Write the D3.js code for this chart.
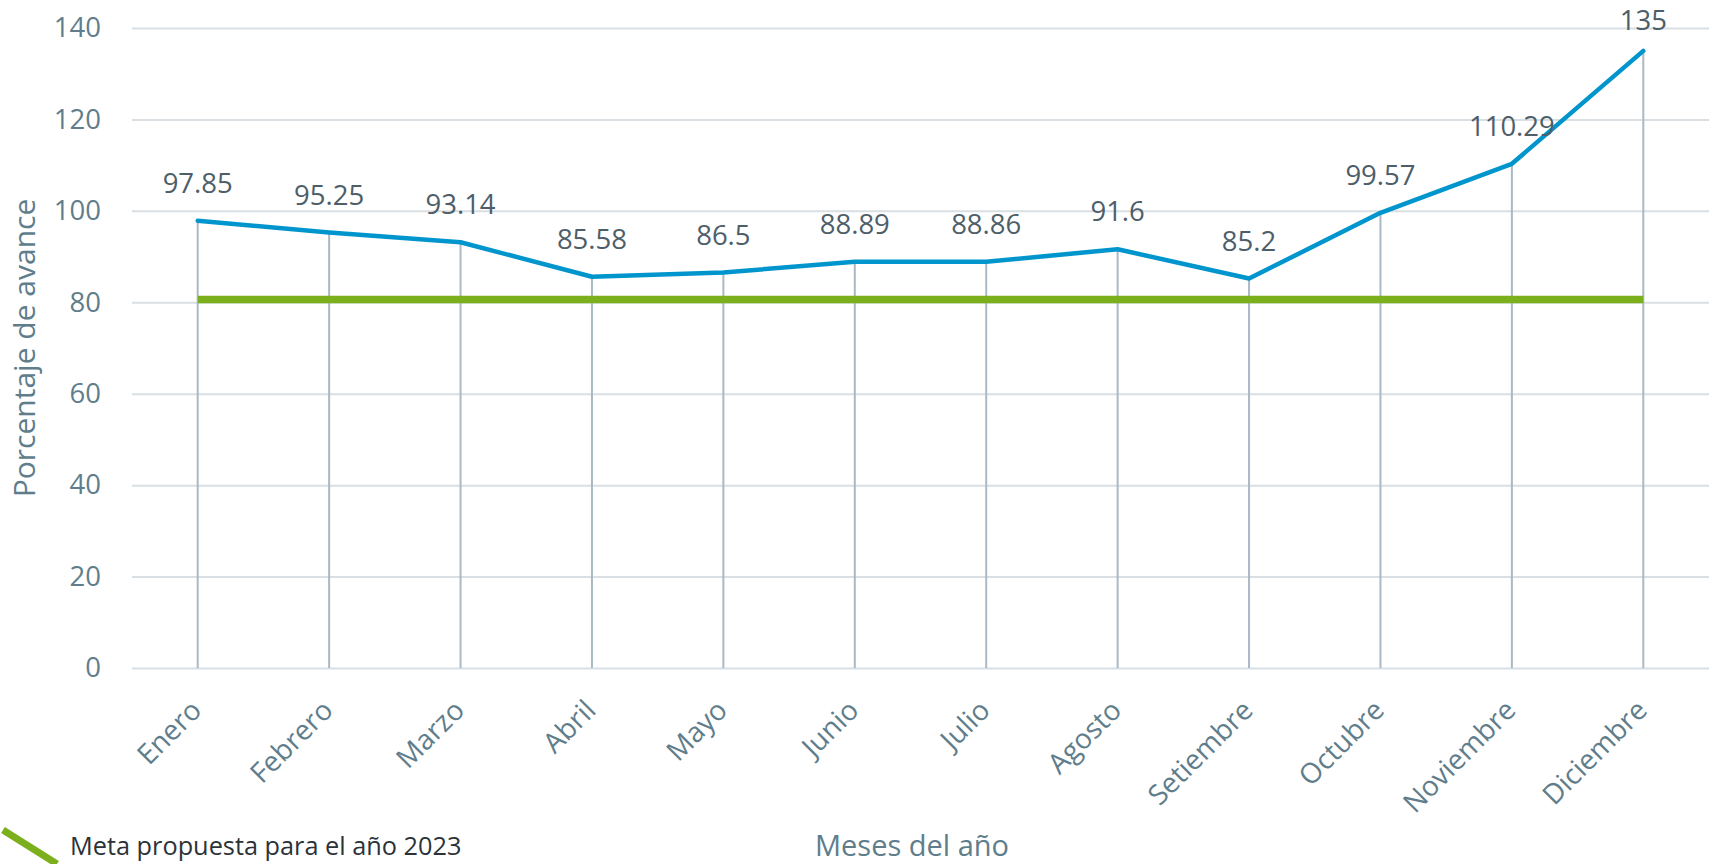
<!DOCTYPE html>
<html>
<head>
<meta charset="utf-8">
<script src="https://cdn.jsdelivr.net/npm/d3@7"></script>
<style>
html,body{margin:0;padding:0;background:#fff;}
svg{display:block;font-family:"Open Sans",sans-serif;}
</style>
</head>
<body>
<svg id="chart" width="1711" height="864"></svg>
<script>
const months = ["Enero","Febrero","Marzo","Abril","Mayo","Junio","Julio","Agosto","Setiembre","Octubre","Noviembre","Diciembre"];
const avance = [97.85,95.25,93.14,85.58,86.5,88.89,88.86,91.6,85.2,99.57,110.29,135];
const meta = [80.6,80.6,80.6,80.6,80.6,80.6,80.6,80.6,80.6,80.6,80.6,80.6];
const yTicks = [0,20,40,60,80,100,120,140];
const labels = ["97.85","95.25","93.14","85.58","86.5","88.89","88.86","91.6","85.2","99.57","110.29","135"];
const yTitle = "Porcentaje de avance";
const xTitle = "Meses del año";
const legendText = "Meta propuesta para el año 2023";

const svg = d3.select("#chart");
const mLeft = 132, mRight = 1709, mTop = 28, mBottom = 668;

const x = d3.scalePoint().domain(months).range([mLeft, mRight]).padding(0.5);
const y = d3.scaleLinear().domain([0,140]).range([mBottom, mTop]);

const axisColor = "#607d8b";

// horizontal gridlines via axis
const yAxis = d3.axisLeft(y).tickValues(yTicks).tickSize(-(mRight-mLeft)).tickPadding(31);
const gy = svg.append("g").attr("transform", `translate(${mLeft},0)`).call(yAxis);
gy.select(".domain").remove();
gy.selectAll(".tick line").attr("stroke", "#d9dfe3").attr("stroke-width", 2);
gy.selectAll(".tick text").attr("fill", axisColor).attr("font-size", 27.5).attr("font-family","Open Sans");

// drop lines
svg.append("g").selectAll("line").data(months).join("line")
  .attr("x1", (d) => x(d)).attr("x2", (d) => x(d))
  .attr("y1", (d,i) => y(avance[i])).attr("y2", y(0))
  .attr("stroke", "#a9b9c5").attr("stroke-width", 2);

// x axis labels
const xAxis = d3.axisBottom(x).tickSize(0).tickPadding(0);
const gx = svg.append("g").attr("transform", `translate(0,${mBottom})`).call(xAxis);
gx.select(".domain").remove();
gx.selectAll(".tick text")
  .attr("fill", axisColor).attr("font-size", 28).attr("font-family","Open Sans")
  .attr("text-anchor", "end").attr("dy", null).attr("y", null)
  .attr("transform", "translate(5,44) rotate(-45)");

// meta line
svg.append("path")
  .datum(months.map((m,i) => [x(m), y(meta[i])]))
  .attr("d", d3.line())
  .attr("fill", "none").attr("stroke", "#7bb01c").attr("stroke-width", 7.5);

// avance line
svg.append("path")
  .datum(months.map((m,i) => [x(m), y(avance[i])]))
  .attr("d", d3.line())
  .attr("fill", "none").attr("stroke", "#0095cc").attr("stroke-width", 4.5)
  .attr("stroke-linejoin", "round").attr("stroke-linecap", "round");

// data labels
svg.append("g").selectAll("text").data(months).join("text")
  .attr("x", (d) => x(d))
  .attr("y", (d,i) => Math.max(y(avance[i]) - 28, 30))
  .attr("text-anchor", "middle")
  .attr("font-size", 27.5)
  .attr("fill", "#4d5e69")
  .text((d,i) => labels[i]);

// axis titles
svg.append("text")
  .attr("transform", "translate(35,348) rotate(-90)")
  .attr("text-anchor", "middle").attr("font-size", 30).attr("fill", axisColor)
  .text(yTitle);
svg.append("text")
  .attr("x", 912).attr("y", 856)
  .attr("text-anchor", "middle").attr("font-size", 29).attr("fill", axisColor)
  .text(xTitle);

// legend
svg.append("line").attr("x1", 3).attr("y1", 830).attr("x2", 57).attr("y2", 864)
  .attr("stroke", "#7bb01c").attr("stroke-width", 7);
svg.append("text").attr("x", 70).attr("y", 855).attr("font-size", 25.3).attr("fill", "#2b3339")
  .text(legendText);
</script>
</body>
</html>
